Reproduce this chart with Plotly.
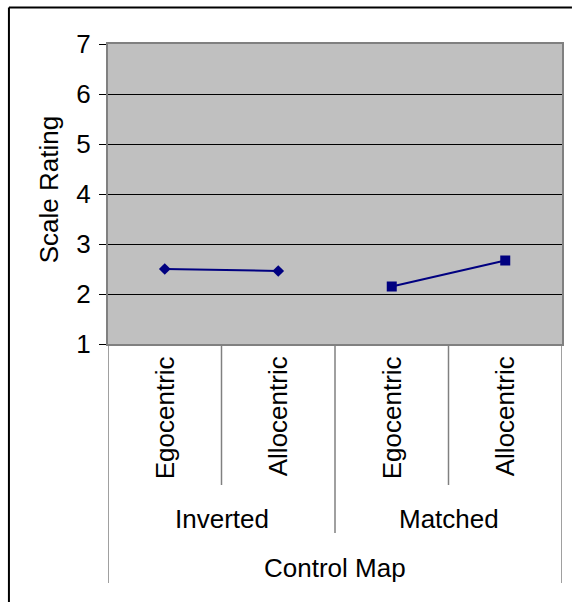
import plotly.graph_objects as go

# ---- data ----
groups = ["Inverted", "Inverted", "Matched", "Matched"]
frames = ["Egocentric", "Allocentric", "Egocentric", "Allocentric"]
outer_label = "Control Map"
inverted_vals = [2.50, 2.46]
matched_vals = [2.15, 2.67]
y_ticks = [1, 2, 3, 4, 5, 6, 7]
y_title = "Scale Rating"

# ---- layout geometry (pixels) ----
W, H = 574, 602
L, R, T, B = 108, 564, 44, 344
PW, PH = R - L, B - T

def py(p):
    return (B - p) / PH

def pxp(p):
    return (p - L) / PW

FONT = "Arial, Liberation Sans, Arimo, sans-serif"
FS = 26
NAVY = "#000080"
GREY = "#808080"

pos = list(range(1, len(frames) + 1))
inv_x = [p for p, g in zip(pos, groups) if g == "Inverted"]
mat_x = [p for p, g in zip(pos, groups) if g == "Matched"]

fig = go.Figure()
fig.add_trace(go.Scatter(x=inv_x, y=inverted_vals, mode="lines+markers",
                         line=dict(color=NAVY, width=2),
                         marker=dict(symbol="diamond", size=9, color=NAVY),
                         showlegend=False))
fig.add_trace(go.Scatter(x=mat_x, y=matched_vals, mode="lines+markers",
                         line=dict(color=NAVY, width=2),
                         marker=dict(symbol="square", size=10, color=NAVY),
                         showlegend=False))

shapes = []
# separators between categories
n = len(frames)
for i in range(n + 1):
    xv = 0.5 + i
    if i == 0 or i == n:
        yend = 583
    elif groups[i - 1] != groups[i]:
        yend = 533
    else:
        yend = 485
    shapes.append(dict(type="line", xref="x", yref="paper", x0=xv, x1=xv,
                       y0=0, y1=py(yend), line=dict(color=GREY, width=1.5)))
# outer chart border (only top and left are inside the picture)
shapes.append(dict(type="line", xref="paper", yref="paper",
                   x0=pxp(8.5), x1=pxp(W), y0=py(7.5), y1=py(7.5),
                   line=dict(color="black", width=2)))
shapes.append(dict(type="line", xref="paper", yref="paper",
                   x0=pxp(8.5), x1=pxp(8.5), y0=py(7.5), y1=py(H),
                   line=dict(color="black", width=2)))

annotations = []
for p, f in zip(pos, frames):
    annotations.append(dict(x=p, xref="x", y=py(354), yref="paper", text=f,
                            textangle=-90, xanchor="center", yanchor="top",
                            showarrow=False, font=dict(family=FONT, size=FS, color="black")))
# group labels
seen = []
for g in groups:
    if g not in seen:
        seen.append(g)
for g in seen:
    idx = [p for p, gg in zip(pos, groups) if gg == g]
    annotations.append(dict(x=sum(idx) / len(idx), xref="x", y=py(519), yref="paper",
                            text=g, xanchor="center", yanchor="middle", showarrow=False,
                            font=dict(family=FONT, size=FS, color="black")))
annotations.append(dict(x=(pos[0] + pos[-1]) / 2, xref="x", y=py(568), yref="paper",
                        text=outer_label, xanchor="center", yanchor="middle", showarrow=False,
                        font=dict(family=FONT, size=FS, color="black")))
annotations.append(dict(x=pxp(49), xref="paper", y=py(190), yref="paper",
                        text=y_title, textangle=-90, xanchor="center", yanchor="middle",
                        showarrow=False, font=dict(family=FONT, size=FS, color="black")))

fig.update_layout(
    width=W, height=H,
    margin=dict(l=L, r=W - R, t=T, b=H - B, pad=0),
    paper_bgcolor="white", plot_bgcolor="#C0C0C0",
    font=dict(family=FONT, size=FS, color="black"),
    shapes=shapes, annotations=annotations, showlegend=False,
    xaxis=dict(range=[0.5, n + 0.5], showticklabels=False, showgrid=False,
               zeroline=False, showline=True, mirror=True, linecolor=GREY,
               linewidth=2, ticks="", fixedrange=True),
    yaxis=dict(range=[y_ticks[0], y_ticks[-1]], tickvals=y_ticks, showgrid=True,
               gridcolor="black", gridwidth=1, zeroline=False, showline=True,
               mirror=True, linecolor=GREY, linewidth=2, ticks="outside",
               ticklen=7, tickcolor="black", tickwidth=1, ticklabelstandoff=3,
               tickfont=dict(family=FONT, size=FS, color="black"), fixedrange=True),
)

fig.write_html("out.html", config={"displayModeBar": False})
